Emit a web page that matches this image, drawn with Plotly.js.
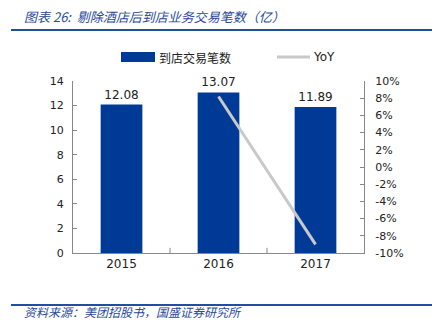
<!DOCTYPE html>
<html><head><meta charset="utf-8">
<script src="https://cdn.plot.ly/plotly-3.0.1.min.js"></script>
<style>html,body{margin:0;padding:0;background:#fff;}#c{width:432px;height:329px;}</style>
</head><body><div id="c"></div>
<script>
const years = ['2015', '2016', '2017'];
const trades = [12.08, 13.07, 11.89];
const yoyYears = ['2016', '2017'];
const yoy = [0.082, -0.090];
const leftTicks = [0, 2, 4, 6, 8, 10, 12, 14];
const rightTicks = [-0.10, -0.08, -0.06, -0.04, -0.02, 0, 0.02, 0.04, 0.06, 0.08, 0.10];
const rightTickText = ['-10%', '-8%', '-6%', '-4%', '-2%', '0%', '2%', '4%', '6%', '8%', '10%'];
const seriesNames = ['到店交易笔数', 'YoY'];

const cjk = '"Noto Sans CJK SC", "DejaVu Sans", sans-serif';
const num = '"DejaVu Sans", sans-serif';
const barColor = '#003a97';
const lineColor = '#c9c9c9';

const data = [
  {type: 'bar', x: years, y: trades, name: seriesNames[0], showlegend: false,
   marker: {color: barColor}, width: 0.43,
   text: trades.map(v => v.toFixed(2)), textposition: 'outside',
   textfont: {family: num, size: 12, color: '#222'}, cliponaxis: false},
  {type: 'scatter', mode: 'lines', x: yoyYears, y: yoy, yaxis: 'y2', name: seriesNames[1],
   showlegend: false, line: {color: lineColor, width: 3}}
];

// plot area: x 73..364 (291px), y 81..253 (172px)
const px = x => (x - 73) / 291;
const py = y => (253 - y) / 172;

const layout = {
  width: 432, height: 329,
  margin: {l: 73, r: 68, t: 81, b: 76},
  paper_bgcolor: '#fff', plot_bgcolor: '#fff',
  showlegend: false,
  xaxis: {type: 'category', showline: true, linecolor: '#888', linewidth: 1,
          ticks: '', showgrid: false, tickfont: {family: num, size: 12, color: '#222'},
          zeroline: false, fixedrange: true},
  yaxis: {range: [0, 14], tickvals: leftTicks, showline: true, linecolor: '#888', linewidth: 1,
          ticks: 'inside', ticklen: 4, tickcolor: '#888', showgrid: false, zeroline: false,
          tickfont: {family: num, size: 11, color: '#222'}, ticklabelstandoff: 6},
  yaxis2: {range: [-0.10, 0.10], overlaying: 'y', side: 'right', tickvals: rightTicks,
           ticktext: rightTickText, showline: true, linecolor: '#888', linewidth: 1,
           ticks: 'inside', ticklen: 4, tickcolor: '#888', showgrid: false, zeroline: false,
           tickfont: {family: num, size: 11, color: '#222'}, ticklabelstandoff: 8},
  shapes: [
    {type: 'line', xref: 'paper', yref: 'paper', x0: 1/3, x1: 1/3, y0: 0, y1: 0.03,
     line: {color: '#888', width: 1}},
    {type: 'line', xref: 'paper', yref: 'paper', x0: 2/3, x1: 2/3, y0: 0, y1: 0.03,
     line: {color: '#888', width: 1}},
    {type: 'line', xref: 'paper', yref: 'paper', x0: px(11), x1: px(432),
     y0: py(30), y1: py(30), line: {color: '#1f4ea3', width: 2}},
    {type: 'line', xref: 'paper', yref: 'paper', x0: px(11), x1: px(432),
     y0: py(305), y1: py(305), line: {color: '#1f4ea3', width: 2}},
    // legend keys
    {type: 'rect', xref: 'paper', yref: 'paper', x0: px(121), x1: px(155),
     y0: py(62), y1: py(52), fillcolor: barColor, line: {width: 0}},
    {type: 'line', xref: 'paper', yref: 'paper', x0: px(277), x1: px(310),
     y0: py(57), y1: py(57), line: {color: lineColor, width: 3}}
  ],
  annotations: [
    {xref: 'paper', yref: 'paper', x: px(22), y: py(16), xanchor: 'left', yanchor: 'middle',
     showarrow: false, text: '<i>图表 26:  剔除酒店后到店业务交易笔数（亿）</i>',
     font: {family: cjk, size: 13, color: '#2a4a9a'}},
    {xref: 'paper', yref: 'paper', x: px(22), y: py(311), xanchor: 'left', yanchor: 'middle',
     showarrow: false, text: '<i>资料来源：美团招股书，国盛证券研究所</i>',
     font: {family: cjk, size: 12, color: '#2a4a9a'}},
    {xref: 'paper', yref: 'paper', x: px(157), y: py(57), xanchor: 'left', yanchor: 'middle',
     showarrow: false, text: seriesNames[0], font: {family: cjk, size: 12, color: '#222'}},
    {xref: 'paper', yref: 'paper', x: px(311), y: py(57), xanchor: 'left', yanchor: 'middle',
     showarrow: false, text: seriesNames[1], font: {family: num, size: 12, color: '#222'}}
  ]
};

Plotly.newPlot('c', data, layout, {displayModeBar: false, staticPlot: true});
</script></body></html>
